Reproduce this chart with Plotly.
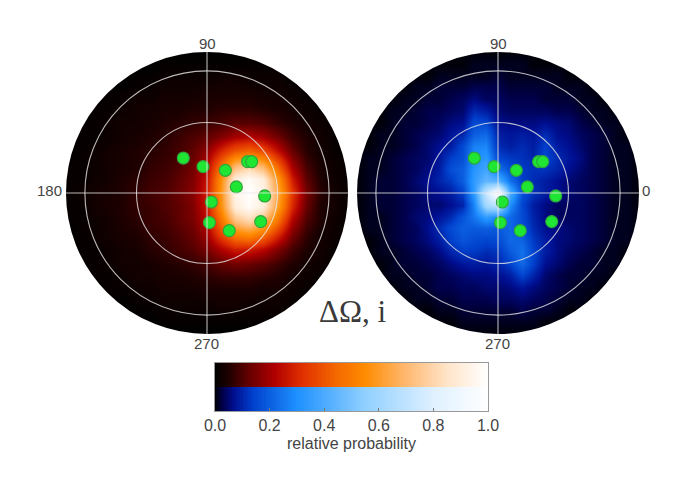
import numpy as np
import plotly.graph_objects as go

# target picture size, the page body adds an 8px margin so the figure is smaller by that
W = 680
H = 477
BODY = 8
FIG_W = W - BODY
FIG_H = H - BODY

# disc geometry in pixels
R = 141
LEFT_CX = 207
RIGHT_CX = 498
CY = 193
MASK_W = 76

# sin(i) coordinates of the 11 objects, same on both discs
pts_x = [-0.168, -0.028, 0.130, 0.288, 0.317, 0.208, 0.409, 0.031, 0.017, 0.158, 0.381]
pts_y = [0.248, 0.187, 0.161, 0.222, 0.222, 0.043, -0.021, -0.064, -0.210, -0.267, -0.203]

ring_deg = [30, 60]

# relative probability in percent, top row first
red_axis = [round(-1 + i * 0.1, 2) for i in range(21)]
red_z = [
    [0, 0, 0, 0, 0, 0, 0, 0, 0, 0, 0, 0, 0, 0, 0, 0, 0, 0, 0, 0, 0],
    [0, 0, 0, 0, 0, 0, 0, 1, 1, 1, 1, 1, 1, 1, 1, 1, 0, 0, 0, 0, 0],
    [0, 0, 0, 0, 0, 1, 1, 2, 2, 2, 2, 3, 3, 2, 2, 2, 1, 1, 0, 0, 0],
    [0, 0, 0, 1, 1, 2, 2, 3, 3, 3, 4, 4, 4, 4, 3, 3, 2, 1, 1, 0, 0],
    [0, 0, 1, 1, 2, 3, 3, 4, 4, 5, 5, 6, 6, 6, 5, 4, 3, 2, 1, 1, 0],
    [0, 1, 1, 2, 3, 3, 4, 5, 6, 7, 8, 9, 11, 11, 10, 7, 5, 3, 2, 1, 0],
    [0, 1, 1, 2, 3, 4, 5, 6, 8, 10, 12, 16, 21, 23, 20, 14, 8, 5, 3, 1, 0],
    [0, 1, 2, 3, 4, 5, 6, 7, 9, 12, 18, 30, 40, 44, 38, 25, 13, 6, 3, 1, 1],
    [1, 1, 2, 3, 4, 5, 7, 8, 10, 14, 23, 45, 68, 76, 66, 42, 20, 9, 4, 2, 1],
    [1, 1, 2, 3, 5, 6, 8, 9, 12, 16, 26, 56, 90, 98, 90, 58, 28, 12, 5, 2, 1],
    [1, 2, 3, 4, 5, 7, 9, 10, 13, 17, 28, 58, 94, 100, 94, 64, 34, 15, 6, 3, 1],
    [1, 1, 3, 4, 5, 7, 8, 10, 12, 16, 27, 56, 90, 98, 90, 60, 30, 13, 5, 3, 1],
    [1, 1, 2, 3, 5, 6, 8, 9, 12, 15, 24, 47, 72, 80, 70, 46, 22, 10, 5, 2, 1],
    [0, 1, 2, 3, 4, 5, 7, 8, 10, 13, 20, 36, 50, 54, 46, 30, 15, 7, 3, 2, 1],
    [0, 1, 1, 2, 3, 4, 6, 7, 9, 11, 15, 22, 28, 28, 24, 16, 9, 5, 3, 1, 0],
    [0, 1, 1, 2, 3, 3, 4, 5, 6, 7, 9, 12, 14, 13, 11, 8, 5, 3, 2, 1, 0],
    [0, 0, 1, 1, 2, 3, 3, 4, 4, 5, 6, 7, 7, 7, 6, 5, 3, 2, 1, 1, 0],
    [0, 0, 0, 1, 1, 2, 2, 3, 3, 3, 4, 4, 4, 4, 3, 3, 2, 1, 1, 0, 0],
    [0, 0, 0, 0, 0, 1, 1, 2, 2, 2, 2, 3, 3, 2, 2, 2, 1, 1, 0, 0, 0],
    [0, 0, 0, 0, 0, 0, 0, 1, 1, 1, 1, 1, 1, 1, 1, 1, 0, 0, 0, 0, 0],
    [0, 0, 0, 0, 0, 0, 0, 0, 0, 0, 0, 0, 0, 0, 0, 0, 0, 0, 0, 0, 0],
]

blue_axis = [round(-1 + i / 12, 3) for i in range(25)]
blue_z = [
    [0, 0, 0, 0, 0, 0, 0, 0, 0, 0, 0, 0, 0, 0, 0, 0, 0, 0, 0, 0, 0, 0, 0, 0, 0],
    [0, 0, 0, 0, 0, 0, 0, 0, 0, 0, 1, 1, 1, 1, 1, 0, 0, 0, 0, 0, 0, 0, 0, 0, 0],
    [0, 0, 0, 0, 0, 0, 0, 1, 1, 1, 1, 1, 2, 1, 1, 1, 1, 1, 0, 0, 0, 0, 0, 0, 0],
    [0, 0, 0, 0, 0, 1, 1, 2, 2, 2, 3, 3, 3, 2, 2, 2, 2, 1, 1, 1, 0, 0, 0, 0, 0],
    [0, 0, 0, 0, 1, 1, 2, 2, 3, 4, 6, 4, 4, 3, 3, 3, 2, 2, 2, 1, 1, 0, 0, 0, 0],
    [0, 0, 0, 1, 1, 2, 3, 3, 4, 5, 11, 9, 5, 4, 4, 4, 4, 3, 3, 2, 1, 1, 0, 0, 0],
    [0, 0, 0, 1, 2, 2, 3, 4, 6, 7, 16, 15, 7, 6, 6, 6, 7, 6, 5, 3, 2, 1, 1, 0, 0],
    [0, 0, 1, 1, 2, 3, 4, 5, 8, 10, 20, 22, 9, 8, 9, 8, 11, 7, 6, 4, 3, 2, 1, 0, 0],
    [0, 0, 1, 1, 2, 3, 5, 7, 9, 16, 27, 28, 11, 9, 11, 9, 14, 9, 7, 5, 3, 2, 1, 1, 0],
    [0, 1, 1, 2, 3, 4, 5, 8, 14, 17, 30, 33, 15, 13, 12, 10, 15, 11, 8, 6, 3, 2, 1, 1, 0],
    [0, 1, 1, 2, 3, 4, 6, 9, 17, 20, 32, 38, 24, 17, 13, 12, 12, 10, 7, 5, 3, 2, 1, 1, 0],
    [0, 1, 2, 2, 3, 5, 7, 10, 13, 20, 34, 45, 42, 24, 14, 11, 9, 7, 5, 4, 3, 2, 1, 1, 0],
    [0, 1, 2, 2, 3, 4, 6, 7, 9, 14, 34, 72, 100, 40, 17, 12, 9, 7, 5, 4, 3, 2, 1, 1, 0],
    [0, 1, 2, 2, 3, 4, 5, 5, 7, 10, 28, 62, 70, 30, 15, 9, 6, 4, 4, 4, 3, 2, 1, 1, 0],
    [0, 1, 1, 2, 3, 5, 6, 8, 11, 18, 25, 34, 30, 22, 16, 10, 6, 4, 4, 4, 3, 2, 1, 1, 0],
    [0, 1, 1, 2, 3, 4, 7, 11, 16, 20, 19, 20, 19, 22, 17, 11, 7, 6, 5, 4, 3, 2, 1, 1, 0],
    [0, 0, 1, 2, 3, 4, 6, 9, 14, 18, 16, 15, 16, 22, 21, 13, 9, 6, 5, 4, 3, 2, 1, 1, 0],
    [0, 0, 1, 1, 2, 3, 4, 6, 10, 13, 13, 11, 12, 19, 24, 15, 9, 6, 4, 3, 2, 1, 1, 0, 0],
    [0, 0, 0, 1, 2, 2, 3, 4, 6, 8, 9, 8, 10, 14, 22, 14, 7, 5, 3, 2, 2, 1, 1, 0, 0],
    [0, 0, 0, 1, 1, 2, 2, 3, 4, 5, 6, 6, 7, 9, 15, 10, 5, 3, 2, 2, 1, 1, 0, 0, 0],
    [0, 0, 0, 0, 1, 1, 2, 3, 3, 4, 4, 5, 5, 6, 8, 6, 4, 3, 2, 1, 1, 0, 0, 0, 0],
    [0, 0, 0, 0, 0, 1, 1, 2, 2, 3, 3, 3, 4, 4, 5, 4, 3, 2, 1, 1, 0, 0, 0, 0, 0],
    [0, 0, 0, 0, 0, 0, 0, 1, 1, 2, 2, 2, 2, 2, 3, 2, 2, 1, 0, 0, 0, 0, 0, 0, 0],
    [0, 0, 0, 0, 0, 0, 0, 0, 0, 1, 1, 1, 1, 1, 1, 1, 0, 0, 0, 0, 0, 0, 0, 0, 0],
    [0, 0, 0, 0, 0, 0, 0, 0, 0, 0, 0, 0, 0, 0, 0, 0, 0, 0, 0, 0, 0, 0, 0, 0, 0],
]

bar_ticks = [0.0, 0.2, 0.4, 0.6, 0.8, 1.0]

red_scale = [[0, "#000000"], [0.05, "#1e0000"], [0.12, "#600000"], [0.22, "#b00000"],
             [0.32, "#e03000"], [0.45, "#f56a00"], [0.55, "#ff8c00"], [0.7, "#ffb870"],
             [0.85, "#ffe4c8"], [1, "#ffffff"]]
blue_scale = [[0, "#000008"], [0.03, "#00004c"], [0.07, "#000e90"], [0.14, "#0040cc"],
              [0.3, "#1e90ff"], [0.55, "#90d0ff"], [0.8, "#dff0ff"], [1, "#ffffff"]]

TEXT = "#444444"
LINE = "rgba(232,232,232,0.8)"


def xfrac(px):
    return (px - BODY) / FIG_W


def yfrac(py):
    return 1 - (py - BODY) / FIG_H


fig = go.Figure()

fig.add_trace(go.Heatmap(x=red_axis, y=red_axis[::-1], z=red_z, zmin=0, zmax=100,
                         colorscale=red_scale, showscale=False, zsmooth="best",
                         xaxis="x", yaxis="y", hoverinfo="skip"))
fig.add_trace(go.Heatmap(x=blue_axis, y=blue_axis[::-1], z=blue_z, zmin=0, zmax=100,
                         colorscale=blue_scale, showscale=False, zsmooth="best",
                         xaxis="x2", yaxis="y2", hoverinfo="skip"))

for xa, ya in [("x", "y"), ("x2", "y2")]:
    fig.add_trace(go.Scatter(x=pts_x, y=pts_y, mode="markers", xaxis=xa, yaxis=ya,
                             marker=dict(size=12, color="#1ee632",
                                         line=dict(color="#2fa53c", width=1.2)),
                             showlegend=False, hoverinfo="skip"))

# colour bar, red half over blue half
bar_x = np.linspace(0, 1, 201)
fig.add_trace(go.Heatmap(x=bar_x, y=[1], z=[bar_x], zmin=0, zmax=1, colorscale=red_scale,
                         showscale=False, xaxis="x3", yaxis="y3", hoverinfo="skip"))
fig.add_trace(go.Heatmap(x=bar_x, y=[0], z=[bar_x], zmin=0, zmax=1, colorscale=blue_scale,
                         showscale=False, xaxis="x3", yaxis="y3", hoverinfo="skip"))

shapes = []
pad = 1 + (MASK_W / 2) / R
for xa, ya in [("x", "y"), ("x2", "y2")]:
    # thick white ring trims the square heatmap to a disc
    shapes.append(dict(type="circle", xref=xa, yref=ya, x0=-pad, x1=pad, y0=-pad, y1=pad,
                       line=dict(color="white", width=MASK_W)))
    for deg in ring_deg:
        r = np.sin(np.radians(deg))
        shapes.append(dict(type="circle", xref=xa, yref=ya, x0=-r, x1=r, y0=-r, y1=r,
                           line=dict(color=LINE, width=1.1)))
    shapes.append(dict(type="line", xref=xa, yref=ya, x0=-1, x1=1, y0=0, y1=0,
                       line=dict(color=LINE, width=1.1)))
    shapes.append(dict(type="line", xref=xa, yref=ya, x0=0, x1=0, y0=-1, y1=1,
                       line=dict(color=LINE, width=1.1)))


def label(text, px, py, size=15, family="Liberation Sans", color=TEXT):
    return dict(text=text, xref="paper", yref="paper", x=xfrac(px), y=yfrac(py), showarrow=False,
                xanchor="center", yanchor="middle",
                font=dict(size=size, family=family, color=color))


annotations = [
    label("90", 207, 43),
    label("270", 206, 343),
    label("180", 49, 191),
    label("90", 498, 43),
    label("270", 497, 343),
    label("0", 646, 191),
    label("ΔΩ, i", 352, 311, size=31, family="Liberation Serif", color="#3a3a3a"),
    label("relative probability", 351, 443, size=16),
]

hidden = dict(visible=False, range=[-1, 1], fixedrange=True)

fig.update_layout(
    width=FIG_W,
    height=FIG_H,
    margin=dict(l=0, r=0, t=0, b=0, autoexpand=False),
    paper_bgcolor="white",
    plot_bgcolor="white",
    showlegend=False,
    shapes=shapes,
    annotations=annotations,
    xaxis=dict(hidden, domain=[xfrac(LEFT_CX - R), xfrac(LEFT_CX + R)], anchor="y"),
    yaxis=dict(hidden, domain=[yfrac(CY + R), yfrac(CY - R)], anchor="x"),
    xaxis2=dict(hidden, domain=[xfrac(RIGHT_CX - R), xfrac(RIGHT_CX + R)], anchor="y2"),
    yaxis2=dict(hidden, domain=[yfrac(CY + R), yfrac(CY - R)], anchor="x2"),
    xaxis3=dict(domain=[xfrac(215), xfrac(488)], range=[0, 1], anchor="y3", tickvals=bar_ticks,
                ticktext=["%.1f" % t for t in bar_ticks], ticks="inside", ticklen=3,
                tickcolor="#777777", showline=True, mirror=True, linecolor="#999999",
                linewidth=1, showgrid=False, zeroline=False,
                tickfont=dict(size=16, family="Liberation Sans", color=TEXT)),
    yaxis3=dict(domain=[yfrac(411), yfrac(363)], range=[-0.5, 1.5], anchor="x3",
                showticklabels=False, ticks="", showline=True, mirror=True,
                linecolor="#999999", linewidth=1, showgrid=False, zeroline=False),
)

fig.write_html("out.html")
